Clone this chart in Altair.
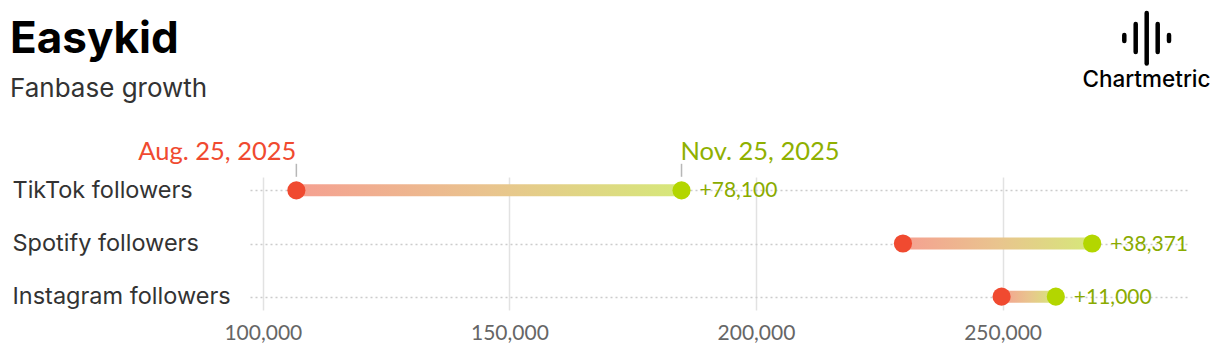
import altair as alt
import pandas as pd

# ---- data ----
platforms = ["TikTok followers", "Spotify followers", "Instagram followers"]
start_values = [106800, 229800, 249800]
end_values = [184900, 268171, 260800]
growth_labels = ["+78,100", "+38,371", "+11,000"]
start_date = "Aug. 25, 2025"
end_date = "Nov. 25, 2025"
x_ticks = [100000, 150000, 200000, 250000]
x_domain = [97400, 287600]
title_text = "Easykid"
subtitle_text = "Fanbase growth"
brand_text = "Chartmetric"

df = pd.DataFrame({"platform": platforms, "start": start_values,
                   "end": end_values, "growth": growth_labels})
top = df.iloc[[0]].assign(start_label=start_date, end_label=end_date)

W, H = 938, 133
RED = "#f04a30"
GREEN = "#b3d600"
GREEN_TEXT = "#8aab00"

x_scale = alt.Scale(domain=x_domain, nice=False, zero=False)
x_axis = alt.Axis(values=x_ticks, format=",.0f", grid=True, gridColor="#e2e2e2",
                  gridWidth=1.5, domain=False, ticks=False, labelFont="Lato",
                  labelFontSize=21, labelColor="#666666", labelPadding=12, title=None)


def X(field):
    return alt.X(field, scale=x_scale, axis=x_axis, title=None)


y_enc = alt.Y("platform:N", sort=platforms,
              scale=alt.Scale(type="point", padding=0.25),
              axis=alt.Axis(domain=False, ticks=False, grid=True, gridDash=[2, 3],
                            gridColor="#cccccc", gridWidth=1.5, labelAlign="left",
                            labelBaseline="middle",
                            labelPadding=238, labelFont="Inter", labelFontSize=23.5,
                            labelColor="#333333", labelLimit=0, title=None),
              title=None)

base = alt.Chart(df)

bars = base.mark_bar(
    height=12,
    color=alt.Gradient(gradient="linear",
                       stops=[alt.GradientStop(color="#f5a091", offset=0),
                              alt.GradientStop(color="#e9c48e", offset=0.5),
                              alt.GradientStop(color="#d6e87a", offset=1)],
                       x1=0, x2=1, y1=0, y2=0)
).encode(x=X("start:Q"), x2="end:Q", y=y_enc)

dots_start = base.mark_circle(size=330, opacity=1, color=RED).encode(x=X("start:Q"), y=y_enc)
dots_end = base.mark_circle(size=330, opacity=1, color=GREEN).encode(x=X("end:Q"), y=y_enc)

growth = base.mark_text(align="left", baseline="middle", dx=18, dy=1, font="Lato",
                        fontSize=21, color=GREEN_TEXT).encode(
    x=X("end:Q"), y=y_enc, text="growth:N")

tchart = alt.Chart(top)
ticks_s = tchart.mark_tick(orient="vertical", size=13, thickness=1.5, color="#999999",
                           yOffset=-20).encode(x=X("start:Q"), y=y_enc)
ticks_e = tchart.mark_tick(orient="vertical", size=13, thickness=1.5, color="#999999",
                           yOffset=-20).encode(x=X("end:Q"), y=y_enc)
lab_s = tchart.mark_text(align="right", baseline="alphabetic", dy=-30, dx=0, font="Lato",
                         fontSize=25.5, color=RED).encode(
    x=X("start:Q"), y=y_enc, text="start_label:N")
lab_e = tchart.mark_text(align="left", baseline="alphabetic", dy=-30, dx=-1, font="Lato",
                         fontSize=25.5, color="#8fb000").encode(
    x=X("end:Q"), y=y_enc, text="end_label:N")

title = alt.Chart(pd.DataFrame({"t": [title_text]})).mark_text(
    align="left", baseline="alphabetic", font="Inter", fontSize=44, fontWeight="bold",
    color="#000000").encode(x=alt.value(-240), y=alt.value(-124), text="t:N")
subtitle = alt.Chart(pd.DataFrame({"t": [subtitle_text]})).mark_text(
    align="left", baseline="alphabetic", font="Inter", fontSize=26,
    color="#333333").encode(x=alt.value(-240), y=alt.value(-80), text="t:N")
brand = alt.Chart(pd.DataFrame({"t": [brand_text]})).mark_text(
    align="center", baseline="alphabetic", font="Inter", fontSize=22.5, fontWeight=500,
    color="#000000").encode(x=alt.value(896.5), y=alt.value(-90), text="t:N")

logo_specs = [(874.3, -142, -136), (885.7, -153, -125), (896.7, -164, -113.5),
              (907.7, -153, -125), (919, -142, -136)]
logo = []
for lx, ly1, ly2 in logo_specs:
    logo.append(alt.Chart(pd.DataFrame({"a": [0]})).mark_rule(
        strokeWidth=4.5, strokeCap="round", color="#000000").encode(
        x=alt.value(lx), y=alt.value(ly1), y2=alt.value(ly2)))

chart = alt.layer(bars, ticks_s, ticks_e, dots_start, dots_end, growth, lab_s, lab_e,
                  title, subtitle, brand, *logo).properties(
    width=W, height=H,
    autosize=alt.AutoSizeParams(type="none"),
    padding={"left": 250, "top": 177, "right": 32, "bottom": 50},
).configure(background="white").configure_view(strokeWidth=0)

chart.save("out.html", embed_options={"renderer": "svg", "actions": False})
